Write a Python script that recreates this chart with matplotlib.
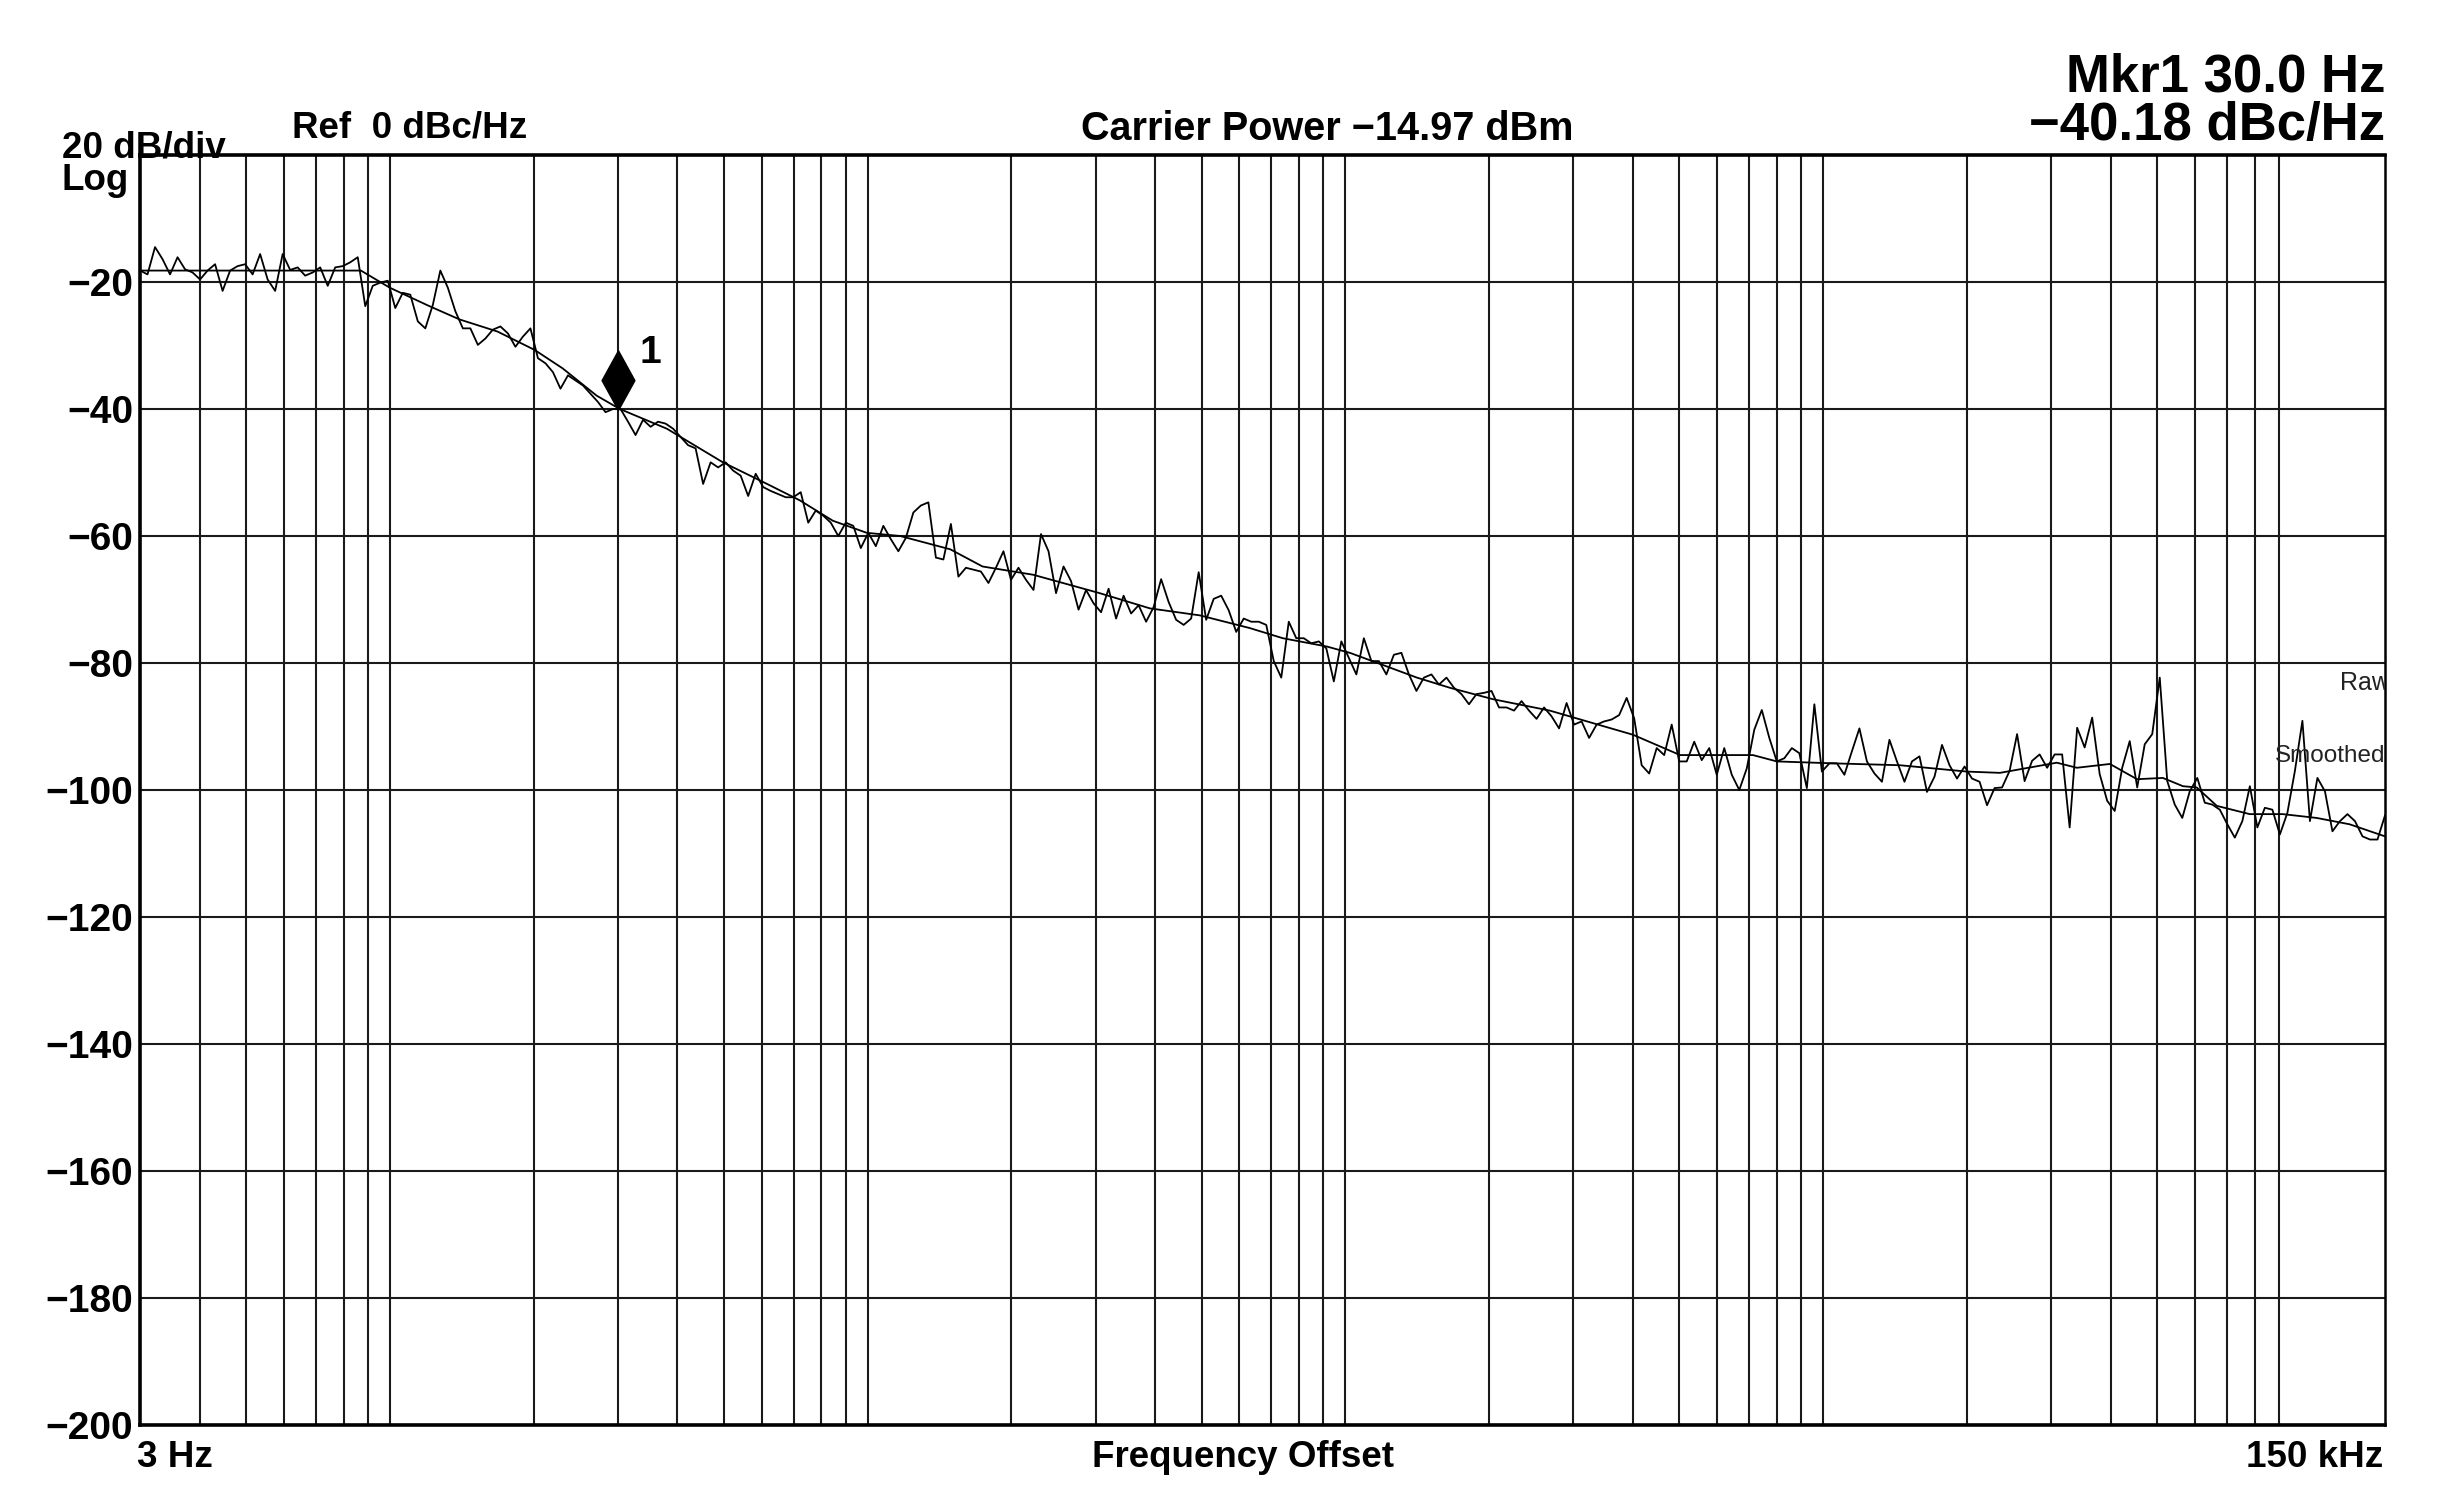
import numpy as np
import matplotlib
matplotlib.use("Agg")
import matplotlib.pyplot as plt
from matplotlib.path import Path

plt.rcParams['font.family'] = ['Liberation Sans', 'DejaVu Sans']

# sweep: 300 log-spaced points, 3 Hz .. 150 kHz
f_start = 3
f_stop = 150000
n_points = 300

raw_db = [
    -18.2, -18.8, -14.5, -16.4, -18.8, -16.1, -18.0, -18.5, -19.6, -18.2,
    -17.2, -21.4, -18.2, -17.5, -17.2, -18.8, -15.6, -19.6, -21.4, -15.6,
    -18.1, -17.7, -19.0, -18.5, -17.7, -20.6, -17.7, -17.5, -16.9, -16.1,
    -23.8, -20.6, -20.1, -19.8, -24.1, -21.7, -22.0, -26.2, -27.3, -23.6,
    -18.2, -20.9, -24.6, -27.3, -27.3, -29.9, -28.9, -27.5, -27.0, -28.1,
    -30.2, -28.6, -27.3, -32.0, -32.8, -34.2, -36.8, -34.7, -35.5, -36.3,
    -37.6, -38.9, -40.5, -40.0, -40.0, -42.0, -44.1, -41.7, -42.8, -42.0,
    -42.3, -43.1, -44.4, -45.7, -46.2, -51.8, -48.4, -49.2, -48.4, -49.7,
    -50.5, -53.7, -50.2, -52.3, -52.9, -53.4, -53.9, -53.9, -53.1, -57.9,
    -56.0, -56.8, -57.9, -60.0, -57.9, -58.4, -61.9, -59.5, -61.6, -58.4,
    -60.5, -62.4, -60.3, -56.3, -55.2, -54.7, -63.4, -63.7, -58.1, -66.4,
    -65.0, -65.3, -65.6, -67.4, -65.0, -62.4, -66.9, -65.0, -66.9, -68.5,
    -59.7, -62.4, -69.0, -64.8, -67.1, -71.6, -68.5, -70.6, -72.0, -68.3,
    -73.0, -69.4, -72.2, -70.9, -73.5, -71.2, -66.8, -70.4, -73.2, -74.0,
    -73.0, -65.7, -73.2, -69.9, -69.4, -71.7, -75.1, -73.0, -73.5, -73.5,
    -74.0, -79.7, -82.3, -73.5, -76.1, -76.1, -76.9, -76.6, -77.7, -82.9,
    -76.6, -79.2, -81.8, -76.1, -79.7, -79.7, -81.8, -78.7, -78.4, -81.8,
    -84.4, -82.3, -81.8, -83.4, -82.3, -83.9, -84.9, -86.5, -84.9, -84.7,
    -84.4, -87.0, -87.0, -87.5, -86.0, -87.5, -88.8, -87.0, -88.4, -90.3,
    -86.3, -89.7, -89.2, -91.8, -89.7, -89.2, -88.9, -88.2, -85.5, -88.7,
    -96.1, -97.4, -93.4, -94.5, -89.7, -95.5, -95.5, -92.4, -95.3, -93.4,
    -97.6, -93.4, -97.6, -100.0, -96.6, -90.5, -87.4, -91.8, -95.5, -95.0,
    -93.4, -94.2, -99.7, -86.5, -97.1, -95.8, -95.8, -97.6, -93.9, -90.3,
    -95.5, -97.4, -98.7, -92.1, -95.5, -98.7, -95.5, -94.7, -100.3, -97.9,
    -92.9, -96.1, -98.2, -96.3, -98.2, -98.7, -102.4, -99.7, -99.6, -97.0,
    -91.2, -98.6, -95.4, -94.4, -96.5, -94.4, -94.4, -105.9, -90.2, -93.3,
    -88.6, -97.5, -101.7, -103.3, -96.5, -92.3, -99.6, -92.8, -91.2, -82.3,
    -98.6, -102.3, -104.4, -100.2, -98.1, -102.0, -102.3, -103.1, -105.4, -107.5,
    -104.9, -99.4, -105.9, -102.8, -103.1, -107.0, -103.6, -97.0, -89.1, -104.9,
    -98.1, -100.2, -106.5, -104.9, -103.8, -104.9, -107.3, -107.8, -107.8, -104.0,
]

smooth_freq = [3, 8.7, 10, 12.1, 14, 16.8, 20.1, 23.0, 27.1, 30.3,
               38, 49.8, 61.6, 72.2, 84.6, 99.6, 117, 149, 174, 222,
               306, 390, 496, 631, 740, 914, 1022, 1197, 1412, 1655,
               2037, 2680, 4000, 5020, 7130, 8000, 10480, 14480, 20000, 23450,
               30840, 33970, 39840, 45390, 51420, 56640, 60540, 66690, 78180, 91650,
               107900, 126500, 150000]
smooth_db = [-18.2, -18.2, -20.9, -23.8, -25.9, -27.8, -30.7, -33.6, -37.9, -40.0,
             -43.1, -48.4, -51.8, -54.4, -57.6, -59.5, -60.0, -62.1, -64.8, -66.1,
             -69.0, -71.4, -72.5, -74.5, -76.1, -77.4, -78.4, -80.3, -82.3, -83.9,
             -85.7, -87.5, -91.3, -94.5, -94.5, -95.5, -95.8, -96.1, -97.1, -97.3,
             -95.7, -96.5, -95.9, -98.3, -98.1, -99.4, -99.6, -102.5, -103.8, -103.8,
             -104.4, -105.4, -107.3]

mkr_freq = 30.0
mkr_db = -40.18

y_ticks = [-20, -40, -60, -80, -100, -120, -140, -160, -180, -200]
y_labels = ["\u221220", "\u221240", "\u221260", "\u221280", "\u2212100",
            "\u2212120", "\u2212140", "\u2212160", "\u2212180", "\u2212200"]

# vertical grid: 1..9 per decade, 4 Hz .. 90 kHz
grid_freq = [m * 10 ** d for d in range(0, 5) for m in range(1, 10)]
grid_freq = [g for g in grid_freq if 3 < g < 100000]

raw_freq = np.geomspace(f_start, f_stop, n_points)

W, H = 2445, 1506
fig = plt.figure(figsize=(W / 100, H / 100), dpi=100)
ax = fig.add_axes([140 / W, 1 - 1425 / H, 2245 / W, 1270 / H])

ax.set_xscale('log')
ax.set_xlim(f_start, f_stop)
ax.set_ylim(-200, 0)

for g in grid_freq:
    ax.axvline(g, color='#1a1a1a', lw=1.5, zorder=1)
for t in y_ticks:
    ax.axhline(t, color='#1a1a1a', lw=1.5, zorder=1)

ax.plot(raw_freq, raw_db, color='black', lw=1.3, zorder=3)
ax.plot(smooth_freq, smooth_db, color='black', lw=1.3, zorder=3)

# marker diamond with its bottom tip on the trace
diamond = Path([(0, 0), (0.55, 1), (0, 2), (-0.55, 1), (0, 0)],
               [Path.MOVETO, Path.LINETO, Path.LINETO, Path.LINETO, Path.CLOSEPOLY])
ax.plot([mkr_freq], [mkr_db], marker=diamond, ms=86, color='black', zorder=4)
ax.annotate('1', xy=(mkr_freq, mkr_db), xytext=(16, 34), textcoords='offset points',
            ha='left', va='baseline', fontsize=28, fontweight='bold')

ax.text(0.980, 0.584, 'Raw', transform=ax.transAxes, fontsize=18, color='#222222',
        ha='left', va='center', clip_on=True)
ax.text(0.951, 0.527, 'Smoothed', transform=ax.transAxes, fontsize=17.5, color='#222222',
        ha='left', va='center', clip_on=True)

ax.set_xticks([])
ax.set_xticks([], minor=True)
ax.set_yticks(y_ticks)
ax.set_yticklabels(y_labels, fontsize=28, fontweight='bold')
ax.tick_params(axis='y', length=0, pad=5)
for side in ['top', 'bottom', 'left']:
    ax.spines[side].set_linewidth(2.6)
ax.spines['right'].set_linewidth(1.8)


def ftext(x, y, s, size=26.5, ha='left', weight='bold'):
    fig.text(x / W, 1 - y / H, s, fontsize=size, ha=ha, va='baseline', fontweight=weight)


ftext(62, 157, '20 dB/div')
ftext(62, 190, 'Log')
ftext(292, 137, 'Ref  0 dBc/Hz')
ftext(1327, 140, 'Carrier Power \u221214.97 dBm', size=28.5, ha='center')
ftext(2385, 92, 'Mkr1 30.0 Hz', size=38, ha='right')
ftext(2385, 140, '\u221240.18 dBc/Hz', size=38, ha='right')
ftext(137, 1467, '3 Hz')
ftext(1243, 1467, 'Frequency Offset', ha='center')
ftext(2383, 1467, '150 kHz', ha='right')

fig.savefig('out.png', dpi=100, facecolor='white')
